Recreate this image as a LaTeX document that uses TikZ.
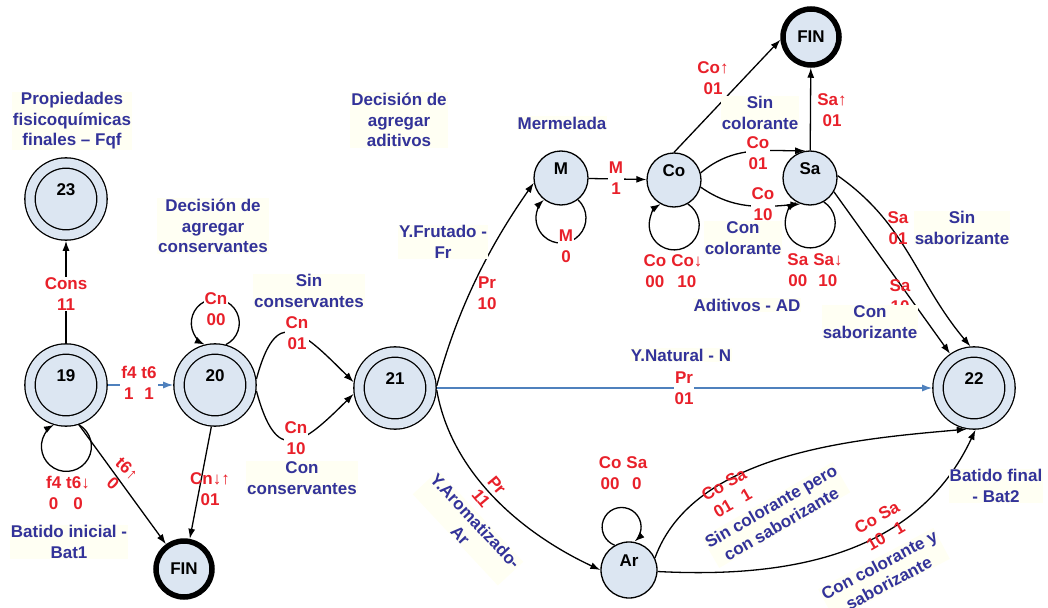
\documentclass[tikz,border=0pt]{standalone}
\usepackage{fontspec}
\setmainfont{Liberation Sans}
\usetikzlibrary{arrows.meta}
\definecolor{stfill}{RGB}{220,230,242}
\definecolor{tagblue}{RGB}{51,51,153}
\definecolor{lblred}{RGB}{232,32,42}
\definecolor{lineblue}{RGB}{79,129,189}
\definecolor{cream}{RGB}{255,255,243}
\newcommand{\pair}[4]{\begin{tabular}{@{}c@{\hspace{5pt}}c@{}}#1&#2\\#3&#4\end{tabular}}
\begin{document}
\begin{tikzpicture}[x=1pt,y=1pt,line width=1.3pt,>={Latex[length=10pt,width=7pt]},
  font=\bfseries\fontsize{17}{20.5}\selectfont]
  \tikzset{ st/.style={circle,draw,fill=stfill,minimum size=54pt,inner sep=0pt,text height=12pt,text depth=20pt},
    acc/.style={st,double=stfill,double distance=9pt,minimum size=72pt,outer sep=5.8pt},
    fin/.style={circle,draw,line width=5.5pt,fill=stfill,minimum size=56pt,inner sep=0pt},
    lbl/.style={text=lblred,align=center,inner sep=1pt},
    tag/.style={text=tagblue,align=center,fill=cream,inner sep=1pt},
  }
  \useasboundingbox (0,0) rectangle (1048,-607);
  % the states
  \node[acc] (n23) at (66,-199) {23};
  \node[acc] (n19) at (66,-385) {19};
  \node[acc] (n20) at (215,-385) {20};
  \node[acc] (n21) at (395,-388) {21};
  \node[acc] (n22) at (974,-388) {22};
  \node[st] (nM) at (561,-178) {M};
  \node[st] (nCo) at (674,-180) {Co};
  \node[st] (nSa) at (810,-178) {Sa};
  \node[st,minimum size=56pt] (nAr) at (629,-570) {Ar};
  \node[fin] (fin1) at (184,-569) {FIN};
  \node[fin] (fin2) at (811,-37) {FIN};

  % the transitions
  \draw[->] (n19) -- (n23);
  \draw[->,lineblue] (n19) -- (n20);
  \draw[->] (n19.-72) arc[start angle=60,end angle=-240,radius=25pt];
  \draw[->] (n19.-72) -- (fin1);
  \draw[->] (n20.75) arc[start angle=-64,end angle=244,radius=24pt];
  \draw[->] (n20.-95) -- (fin1);
  \draw[->] (n20.8) to[out=75,in=135,looseness=2] (n21.172);
  \draw[->] (n20.-8) to[out=-75,in=-135,looseness=2] (n21.-172);
  \draw[->] (n21.3) to[out=75,in=-125,looseness=0.9] (nM.190);
  \draw[->] (n21.-3) to[out=-80,in=155,looseness=0.9] (nAr.180);
  \draw[->,lineblue] (n21) -- (n22);
  \draw[->] (nM.-52) arc[start angle=47,end angle=-227,radius=25pt];
  \draw[->] (nM) -- (nCo);
  \draw[->] (nCo.-60.5) arc[start angle=57,end angle=-237,radius=25pt];
  \draw[->] (nCo.90) -- (fin2.185);
  \draw[->] (nCo.15) to[out=40,in=180] (nSa.100);
  \draw[->] (nCo.-15) to[out=-35,in=185] (nSa.-110);
  \draw[->] (nSa.-60.5) arc[start angle=57,end angle=-237,radius=25pt];
  \draw[->] (nSa) -- (fin2);
  \draw[->] (nSa.5) to[out=-35,in=130] (n22.95);
  \draw[->] (nSa.-30) -- (n22.125);
  \draw[->] (nAr.120.7) arc[start angle=-110.8,end angle=-408.2,radius=19.5pt];
  \draw[->] (nAr.25) to[out=70,in=185,looseness=0.85] (n22.-100);
  \draw[->] (nAr.-3) to[out=-3,in=-115] (n22.-88);

  % the red labels
  \node[lbl,fill=white] (lCons) at (66,-294) {Cons\\11};
  \node[lbl,fill=white] (lBat) at (139,-385) {\pair{f4}{t6}{1}{1}};
  \node[lbl] (lBatLoop) at (68,-495) {\pair{f4}{t6↓}{0}{0}};
  \node[lbl,rotate=-43] (lBatFin) at (120,-476) {t6↑\\0};
  \node[lbl,fill=white] (lCnLoop) at (216,-309) {Cn\\00};
  \node[lbl] (lCnFin) at (210,-489) {Cn↓↑\\01};
  \node[lbl,fill=white] (lCnSin) at (297,-333) {Cn\\01};
  \node[lbl,fill=white] (lCnCon) at (296,-438) {Cn\\10};
  \node[lbl] (lPrFr) at (487,-293) {Pr\\10};
  \node[lbl,rotate=-50] (lPrAr) at (489,-492) {Pr\\11};
  \node[lbl,fill=white] (lPrN) at (684,-388) {Pr\\01};
  \node[lbl,fill=white] (lMLoop) at (566,-246) {M\\0};
  \node[lbl,fill=white] (lM) at (616,-178) {M\\1};
  \node[lbl] (lCoFin) at (713,-78) {Co↑\\01};
  \node[lbl,fill=white] (lCoSin) at (758,-153) {Co\\01};
  \node[lbl,fill=white] (lCoCon) at (763,-204) {Co\\10};
  \node[lbl] (lCoLoop) at (673,-273) {\pair{Co}{Co↓}{00}{10}};
  \node[lbl] (lSaFin) at (832,-110) {Sa↑\\01};
  \node[lbl] (lSaLoop) at (815,-272) {\pair{Sa}{Sa↓}{00}{10}};
  \node[lbl] (lSaSin) at (898,-228) {Sa\\01};
  \node[lbl] (lSaCon) at (900,-296) {Sa\\10};
  \node[lbl] (lArLoop) at (623,-475) {\pair{Co}{Sa}{00}{0}};
  \node[lbl,rotate=30] (lArSin) at (730,-495) {\pair{Co}{Sa}{01}{1}};
  \node[lbl,rotate=30] (lArCon) at (883,-528) {\pair{Co}{Sa}{10}{1}};

  % the blue texts
  \node[tag] (tFqf) at (72,-121) {Propiedades\\fisicoquímicas\\finales – Fqf};
  \node[tag] (tDecCn) at (213,-226) {Decisión de\\agregar\\conservantes};
  \node[tag] (tDecAd) at (399,-120) {Decisión de\\agregar\\aditivos};
  \node[tag] (tMer) at (562,-123) {Mermelada};
  \node[tag] (tBat1) at (69,-542) {Batido inicial -\\Bat1};
  \node[tag] (tSinCn) at (309,-291) {Sin\\conservantes};
  \node[tag] (tConCn) at (302,-478) {Con\\conservantes};
  \node[tag] (tFr) at (443,-242) {Y.Frutado -\\Fr};
  \node[tag] (tSinCo) at (760,-113) {Sin\\colorante};
  \node[tag] (tConCo) at (743,-238) {Con\\colorante};
  \node[tag] (tAD) at (747,-305) {Aditivos - AD};
  \node[tag] (tSinSa) at (962,-228) {Sin\\saborizante};
  \node[tag] (tConSa) at (870,-322) {Con\\saborizante};
  \node[tag] (tN) at (681,-355) {Y.Natural - N};
  \node[tag] (tBat2) at (996,-486) {Batido final\\- Bat2};
  \node[tag,rotate=-47] (tAr) at (468,-528) {Y.Aromatizado-\\Ar};
  \node[tag,rotate=30] (tArSin) at (776,-515) {Sin colorante pero\\con saborizante};
  \node[tag,rotate=28] (tArCon) at (884,-574) {Con colorante y\\saborizante};
\end{tikzpicture}
\end{document}
